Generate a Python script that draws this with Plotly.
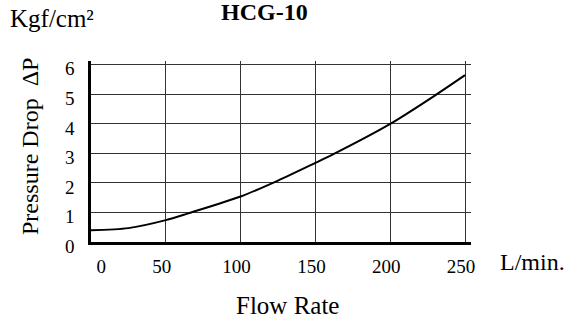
import plotly.graph_objects as go

# Data
flow_rate = [0, 25, 50, 65, 100, 125, 150, 163, 200, 231, 250]          # L/min.
pressure_drop = [0.40, 0.47, 0.74, 0.97, 1.54, 2.08, 2.68, 3.0, 4.0, 5.0, 5.65]  # Kgf/cm²

x_ticks = [0, 50, 100, 150, 200, 250]
x_tick_text = ["\u00a0" * 6 + "0", "50", "100", "150", "200", "250"]
y_ticks = [0, 1, 2, 3, 4, 5, 6]
y_tick_text = ["0", "1", "2", "3", "4", "5", "6"]

FONT = "Liberation Serif"

fig = go.Figure()
fig.add_trace(go.Scatter(
    x=flow_rate, y=pressure_drop, mode="lines",
    line=dict(color="black", width=2, shape="spline", smoothing=0.8),
    hoverinfo="skip", showlegend=False,
))

L, R, T, B = 91, 100, 61, 78
W, H = 571, 320
pw, ph = W - L - R, H - T - B

def px(x):
    return (x - L) / pw

def py(y):
    return (H - B - y) / ph

fig.update_layout(
    width=W, height=H,
    margin=dict(l=L, r=R, t=T, b=B, pad=0),
    paper_bgcolor="white", plot_bgcolor="white",
    font=dict(family=FONT, color="black", size=19),
    xaxis=dict(
        range=[0, 254], tickvals=x_ticks, ticktext=x_tick_text,
        showgrid=True, gridcolor="#333333", gridwidth=1,
        showline=True, linecolor="black", linewidth=2.5,
        zeroline=False, ticks="", ticklabelstandoff=5, ticklabelshift=-4,
        tickfont=dict(family=FONT, size=19, color="black"),
        fixedrange=True,
    ),
    yaxis=dict(
        range=[0, 6.13], tickvals=y_ticks, ticktext=y_tick_text,
        showgrid=True, gridcolor="#333333", gridwidth=1,
        showline=True, linecolor="black", linewidth=2.5,
        zeroline=False, ticks="", ticklabelstandoff=10, ticklabelshift=4,
        tickfont=dict(family=FONT, size=19, color="black"),
        fixedrange=True,
    ),
    annotations=[
        dict(text="Kgf/cm²", xref="paper", yref="paper", x=px(8), y=py(18),
             xanchor="left", yanchor="middle", showarrow=False,
             font=dict(family=FONT, size=25, color="black")),
        dict(text="<b>HCG-10</b>", xref="paper", yref="paper", x=px(264), y=py(12),
             xanchor="center", yanchor="middle", showarrow=False,
             font=dict(family=FONT, size=24, color="black")),
        dict(text="L/min.", xref="paper", yref="paper", x=px(498), y=py(262),
             xanchor="left", yanchor="middle", showarrow=False,
             font=dict(family=FONT, size=24, color="black")),
        dict(text="Flow Rate", xref="paper", yref="paper", x=px(287), y=py(305),
             xanchor="center", yanchor="middle", showarrow=False,
             font=dict(family=FONT, size=25, color="black")),
        dict(text="Pressure Drop\u00a0\u00a0ΔP", xref="paper", yref="paper", x=px(30), y=py(147),
             xanchor="center", yanchor="middle", textangle=-90, showarrow=False,
             font=dict(family=FONT, size=24, color="black")),
    ],
)

fig.write_html(
    "out.html",
    config={"displayModeBar": False},
    post_script="document.body.style.margin='0';document.body.style.padding='0';",
)
